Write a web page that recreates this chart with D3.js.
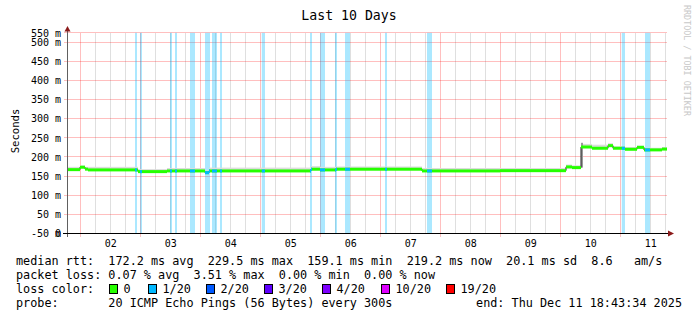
<!DOCTYPE html>
<html>
<head>
<meta charset="utf-8">
<script src="https://cdnjs.cloudflare.com/ajax/libs/d3/7.8.5/d3.min.js"></script>
<style>
  body { margin: 0; background: #fff; }
  svg { display: block; font-family: "DejaVu Sans Mono", monospace; }
  .legend text { white-space: pre; }
</style>
</head>
<body>
<div id="chart"></div>
<script>
/* ------------------------------- Data ------------------------------- */
const graphStart = new Date(2025, 11, 1, 18, 43, 34);
const graphEnd = new Date(2025, 11, 11, 18, 43, 34);

// median rtt in steps: value holds from segHours[i] (hours after start) to the next one
const segHours = [0, 5.2, 7.2, 8.4, 28.4, 40, 55.2, 56.8, 97.6, 101.2, 107.6, 142, 173.2, 199.6, 202, 205.6, 206.4, 210, 216.4, 218.4, 223.2, 228, 230.8, 238];
const medianMs = [166.7, 173, 168, 166, 161.5, 163.3, 158.8, 163.3, 167.8, 166, 167.8, 163.3, 164, 173.8, 172, 226, 226, 222.7, 229.5, 222.7, 220, 225, 218.4, 220.5];
const smokeLo = [165, 171, 166, 164, 160, 161.5, 157, 161.5, 166, 164.5, 166, 161.5, 162.5, 170, 170, 172, 223, 221, 227, 221, 218.5, 223, 217, 219];
const smokeHi = [174, 178, 174, 174, 168, 171, 165, 172, 176, 174, 175, 171, 171, 180, 178, 237, 234, 232, 236, 228, 226, 230, 224, 226];

// packet loss periods: start (hours after start), length (hours), lost pings of 20
const lossHours = [27.2, 29.2, 41.2, 43.2, 49.2, 55.2, 58, 61.2, 77.9, 97.2, 101.2, 107.2, 111.2, 127.2, 144, 221.9, 231.2];
const lossLength = [0.8, 0.8, 0.8, 0.8, 2, 2, 2, 0.8, 1.3, 0.8, 2, 0.8, 2, 0.8, 2, 1.3, 2];
const lossPings = [1, 1, 1, 1, 1, 1, 1, 1, 1, 1, 1, 1, 1, 1, 1, 1, 1];

// y ticks in ms (rrdtool clamps the outer ones to the canvas)
const yTicks = [-50, 0, 50, 100, 150, 200, 250, 300, 350, 400, 450, 500, 550];

// loss colour legend
const lossLevels = [0, 1, 2, 3, 4, 10, 19];
const lossLabels = ['0', '1/20', '2/20', '3/20', '4/20', '10/20', '19/20'];
const lossColors = ['#26ff00', '#00b8ff', '#0059ff', '#5e00ff', '#7e00ff', '#dd00ff', '#ff0000'];

const statsRows = [
    'median rtt:  172.2 ms avg  229.5 ms max  159.1 ms min  219.2 ms now  20.1 ms sd  8.6   am/s',
    'packet loss: 0.07 % avg  3.51 % max  0.00 % min  0.00 % now'
];

/* ------------------------------ Scales ------------------------------ */
const svg = d3.select('#chart')
    .append('svg')
    .attr('width', 697)
    .attr('height', 321);

const x = d3.scaleTime().domain([graphStart, graphEnd]).range([67, 667]);
const y = d3.scaleLinear().domain([0, 525]).range([233.3, 32.8]).clamp(true);
const atHour = h => new Date(graphStart.getTime() + h * 3600e3);
const crisp = v => Math.round(v) + 0.5;
const lossColor = p => lossColors[lossLevels.indexOf(p)];

/* ------------------------------- Grid ------------------------------- */
const grid = svg.append('g');

const days = d3.timeDay.range(d3.timeDay.ceil(graphStart), graphEnd);
const quarters = d3.timeHour.every(6).range(graphStart, graphEnd).filter(d => d.getHours() !== 0);

grid.selectAll('.minor')
    .data(quarters)
    .enter()
    .append('line')
    .attr('x1', d => crisp(x(d))).attr('x2', d => crisp(x(d)))
    .attr('y1', 33).attr('y2', 233)
    .attr('stroke', 'rgba(128,128,128,0.25)');

grid.selectAll('.hgrid')
    .data(yTicks)
    .enter()
    .append('line')
    .attr('x1', 64).attr('x2', 667)
    .attr('y1', d => crisp(y(d) - 0.5)).attr('y2', d => crisp(y(d) - 0.5))
    .attr('stroke', 'rgba(255,0,0,0.25)');

grid.selectAll('.major')
    .data(days)
    .enter()
    .append('line')
    .attr('x1', d => crisp(x(d))).attr('x2', d => crisp(x(d)))
    .attr('y1', 33).attr('y2', 237)
    .attr('stroke', 'rgba(255,0,0,0.25)');

/* ---------------------------- Loss bars ---------------------------- */
svg.append('g').selectAll('rect')
    .data(lossHours)
    .enter()
    .append('rect')
    .attr('x', (d, i) => x(atHour(d)))
    .attr('width', (d, i) => x(atHour(d + lossLength[i])) - x(atHour(d)))
    .attr('y', y(550))
    .attr('height', y(0) - y(550))
    .attr('fill', (d, i) => lossColor(lossPings[i]))
    .attr('fill-opacity', 0.33);

/* ------------------------------ Smoke ------------------------------ */
const segEnd = i => (i + 1 < segHours.length ? segHours[i + 1] : 240);

svg.append('g').selectAll('rect')
    .data(segHours)
    .enter()
    .append('rect')
    .attr('x', (d, i) => x(atHour(d)))
    .attr('width', (d, i) => x(atHour(segEnd(i))) - x(atHour(d)))
    .attr('y', (d, i) => y(smokeHi[i]))
    .attr('height', (d, i) => y(smokeLo[i]) - y(smokeHi[i]))
    .attr('fill', (d, i) => (smokeHi[i] - smokeLo[i] > 30 ? '#9a9a9a' : '#dcdcdc'));

/* ------------------------------ Median ------------------------------ */
const stepPoints = segHours.map((h, i) => [h, medianMs[i]]).concat([[240, medianMs[medianMs.length - 1]]]);
const stepLine = d3.line()
    .x(d => x(atHour(d[0])))
    .y(d => y(d[1]))
    .curve(d3.curveStepAfter);

svg.append('path')
    .attr('d', stepLine(stepPoints))
    .attr('fill', 'none')
    .attr('stroke', '#202020')
    .attr('stroke-width', 1);

svg.append('g').selectAll('rect')
    .data(segHours)
    .enter()
    .append('rect')
    .attr('x', (d, i) => x(atHour(d)))
    .attr('width', (d, i) => x(atHour(segEnd(i))) - x(atHour(d)))
    .attr('y', (d, i) => y(medianMs[i]) - 1.5)
    .attr('height', 3)
    .attr('fill', lossColor(0));

// colour the median where pings were lost
const lossPieces = [];
lossHours.forEach((h, j) => {
    const h2 = h + lossLength[j];
    segHours.forEach((s, i) => {
        const a = Math.max(h, s), b = Math.min(h2, segEnd(i));
        if (b > a) lossPieces.push({ a, b, ms: medianMs[i], pings: lossPings[j] });
    });
});

svg.append('g').selectAll('rect')
    .data(lossPieces)
    .enter()
    .append('rect')
    .attr('x', d => x(atHour(d.a)))
    .attr('width', d => x(atHour(d.b)) - x(atHour(d.a)))
    .attr('y', d => y(d.ms) - 1.5)
    .attr('height', 3)
    .attr('fill', d => lossColor(d.pings));

/* ------------------------------- Axes ------------------------------- */
svg.append('line')
    .attr('x1', 67.5).attr('x2', 67.5)
    .attr('y1', 237).attr('y2', 30)
    .attr('stroke', '#606060');
svg.append('line')
    .attr('x1', 63).attr('x2', 669)
    .attr('y1', 233.5).attr('y2', 233.5)
    .attr('stroke', '#000');
svg.append('path')
    .attr('d', 'M64.5,31.5L70.5,31.5L67.5,26Z')
    .attr('fill', '#8b1a1a');
svg.append('path')
    .attr('d', 'M668,230.5L668,236.5L674,233.5Z')
    .attr('fill', '#8b1a1a');

svg.append('g')
    .attr('transform', 'translate(67,0)')
    .call(d3.axisLeft(y).tickValues(yTicks).tickSize(0).tickPadding(6)
        .tickFormat(d => (d === 0 ? '0' : d + ' m')))
    .call(g => g.select('.domain').remove())
    .selectAll('text')
    .attr('font-family', '"DejaVu Sans Mono", monospace')
    .attr('font-size', 10)
    .attr('fill', '#000');

const noons = days.map(d => d3.timeHour.offset(d, 12)).filter(d => d < graphEnd);
svg.append('g')
    .attr('transform', 'translate(0,233)')
    .call(d3.axisBottom(x).tickValues(noons).tickSize(0).tickPadding(7)
        .tickFormat(d3.timeFormat('%d')))
    .call(g => g.select('.domain').remove())
    .selectAll('text')
    .attr('font-family', '"DejaVu Sans Mono", monospace')
    .attr('font-size', 10)
    .attr('fill', '#000');

/* ------------------------------ Titles ------------------------------ */
svg.append('text')
    .attr('x', 349).attr('y', 20)
    .attr('text-anchor', 'middle')
    .attr('font-size', 13.2)
    .text('Last 10 Days');

svg.append('text')
    .attr('transform', 'translate(19,131) rotate(-90)')
    .attr('text-anchor', 'middle')
    .attr('font-size', 10.6)
    .text('Seconds');

svg.append('text')
    .attr('transform', 'translate(684,5) rotate(90)')
    .attr('font-size', 8.4)
    .attr('fill', '#c8c8c8')
    .text('RRDTOOL / TOBI OETIKER');

/* ------------------------------ Legend ------------------------------ */
const legend = svg.append('g').attr('class', 'legend').attr('font-size', 11.8);

legend.selectAll('.stats')
    .data(statsRows)
    .enter()
    .append('text')
    .attr('x', 16)
    .attr('y', (d, i) => 265 + i * 14)
    .text(d => d);

legend.append('text').attr('x', 16).attr('y', 293).text('loss color:');

const boxX = [109.5, 148.5, 206.5, 264.5, 322.5, 381.5, 446.5];
const items = legend.selectAll('.item')
    .data(lossLabels)
    .enter()
    .append('g')
    .attr('transform', (d, i) => `translate(${boxX[i]},0)`);
items.append('rect')
    .attr('y', 284.5).attr('width', 8).attr('height', 9)
    .attr('fill', (d, i) => lossColors[i])
    .attr('stroke', '#000');
items.append('text')
    .attr('x', 14).attr('y', 293)
    .text(d => d);

legend.append('text').attr('x', 16).attr('y', 307).text('probe:       20 ICMP Echo Pings (56 Bytes) every 300s');
legend.append('text').attr('x', 682).attr('y', 307).attr('text-anchor', 'end').text('end: Thu Dec 11 18:43:34 2025');
</script>
</body>
</html>
